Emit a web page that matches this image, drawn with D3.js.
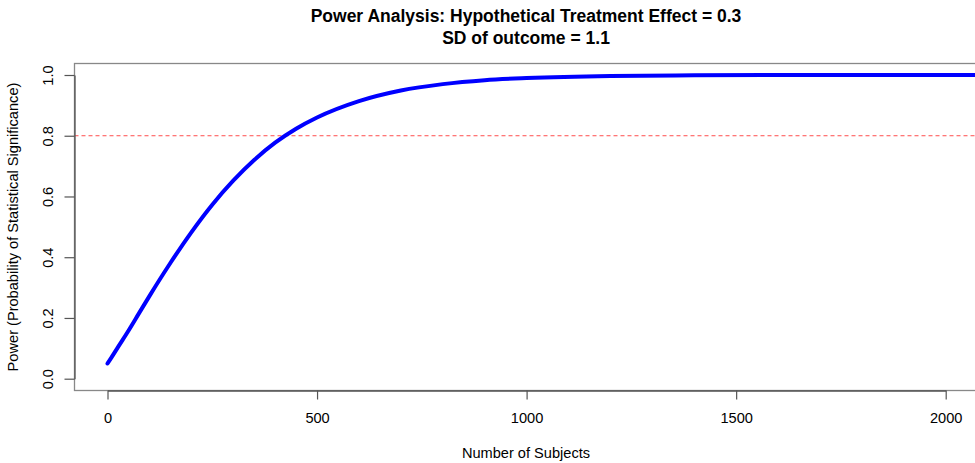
<!DOCTYPE html>
<html>
<head>
<meta charset="utf-8">
<script src="https://cdn.jsdelivr.net/npm/d3@7"></script>
<style>
  body { margin: 0; background: #fff; }
  svg text { font-family: "Liberation Sans", Arial, Helvetica, sans-serif; fill: #000; }
</style>
</head>
<body>
<script>
// taille du dessin
const largeur = 975;
const hauteur = 463;

// donnees
const nbSujets = [0, 10, 25, 50, 75, 100, 150, 200, 250, 300, 350, 400, 450, 500,
                  600, 700, 800, 900, 1000, 1200, 1400, 1600, 1800, 2000, 2100];
const puissance = [0.050, 0.071, 0.104, 0.158, 0.215, 0.272, 0.381, 0.482, 0.573, 0.652, 0.720, 0.777, 0.823, 0.860,
                   0.914, 0.949, 0.970, 0.983, 0.990, 0.997, 0.999, 1.000, 1.000, 1.000, 1.000];
const seuil = 0.8;
const ticksX = [0, 500, 1000, 1500, 2000];
const ticksY = [0.0, 0.2, 0.4, 0.6, 0.8, 1.0];
const titre1 = "Power Analysis: Hypothetical Treatment Effect = 0.3";
const titre2 = "SD of outcome = 1.1";

// cadre du graphique (le bord droit sort de l'image)
const cadre = { gauche: 74.5, haut: 63.5, bas: 390.5, droite: 990 };

const x = d3.scaleLinear().domain([0, 2000]).range([107.5, 945.7]);
const y = d3.scaleLinear().domain([0, 1]).range([378.7, 75]);

const svg = d3.select("body").append("svg")
    .attr("width", largeur)
    .attr("height", hauteur);

// clip pour rester dans le cadre
svg.append("clipPath").attr("id", "zone")
  .append("rect")
    .attr("x", cadre.gauche)
    .attr("y", cadre.haut)
    .attr("width", cadre.droite - cadre.gauche)
    .attr("height", cadre.bas - cadre.haut);

// ligne rouge pointillee a 0.8
svg.append("line")
    .attr("x1", cadre.gauche)
    .attr("x2", cadre.droite)
    .attr("y1", y(seuil))
    .attr("y2", y(seuil))
    .attr("stroke", "#ff0000")
    .attr("stroke-opacity", 0.7)
    .attr("stroke-width", 1)
    .attr("stroke-dasharray", "4,3");

// courbe de puissance
const donnees = nbSujets.map((n, i) => [n, puissance[i]]);
svg.append("path")
    .datum(donnees)
    .attr("clip-path", "url(#zone)")
    .attr("d", d3.line().x(d => x(d[0])).y(d => y(d[1])).curve(d3.curveMonotoneX))
    .attr("fill", "none")
    .attr("stroke", "#0000ff")
    .attr("stroke-width", 4)
    .attr("stroke-linecap", "round");

// cadre
svg.append("rect")
    .attr("x", cadre.gauche)
    .attr("y", cadre.haut)
    .attr("width", cadre.droite - cadre.gauche)
    .attr("height", cadre.bas - cadre.haut)
    .attr("fill", "none")
    .attr("stroke", "#888")
    .attr("stroke-width", 1.3);

// axe X
const axeX = svg.append("g")
    .attr("transform", `translate(0,${cadre.bas})`)
    .call(d3.axisBottom(x).tickValues(ticksX).tickFormat(d3.format("d")).tickSize(9).tickSizeOuter(0).tickPadding(13.3));
axeX.select(".domain").attr("stroke", "#555").attr("stroke-width", 1.3);
axeX.selectAll(".tick line").attr("stroke", "#555").attr("stroke-width", 1.2);
axeX.selectAll(".tick text").style("font-size", "14.6px").attr("fill", "#000");

// axe Y
const axeY = svg.append("g")
    .attr("transform", `translate(${cadre.gauche},0)`)
    .call(d3.axisLeft(y).tickValues(ticksY).tickFormat(d3.format(".1f")).tickSize(10).tickSizeOuter(0));
axeY.select(".domain").attr("stroke", "#555").attr("stroke-width", 1.3);
axeY.selectAll(".tick line").attr("stroke", "#555").attr("stroke-width", 1.2);
axeY.selectAll(".tick text")
    .attr("transform", "rotate(-90)")
    .attr("x", 0)
    .attr("y", -21.2)
    .attr("dy", 0)
    .attr("text-anchor", "middle")
    .style("font-size", "14.6px")
    .attr("fill", "#000");

// titres
svg.append("text")
    .attr("x", 526)
    .attr("y", 21.7)
    .attr("text-anchor", "middle")
    .style("font-size", "17.5px")
    .style("font-weight", "bold")
    .text(titre1);
svg.append("text")
    .attr("x", 526)
    .attr("y", 44.2)
    .attr("text-anchor", "middle")
    .style("font-size", "17.5px")
    .style("font-weight", "bold")
    .text(titre2);

// etiquettes des axes
svg.append("text")
    .attr("x", 526)
    .attr("y", 458.3)
    .attr("text-anchor", "middle")
    .style("font-size", "14.6px")
    .text("Number of Subjects");
svg.append("text")
    .attr("transform", `translate(18.3,${(cadre.haut + cadre.bas) / 2}) rotate(-90)`)
    .attr("text-anchor", "middle")
    .style("font-size", "14.6px")
    .text("Power (Probability of Statistical Significance)");
</script>
</body>
</html>
